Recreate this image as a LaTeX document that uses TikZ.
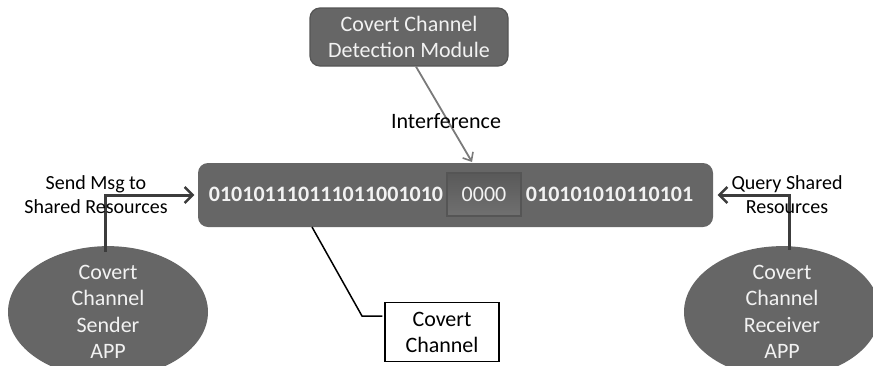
\documentclass[tikz,border=0pt]{standalone}
\usepackage{fontspec}
\setmainfont{Carlito}
\usetikzlibrary{positioning,arrows.meta,shapes.geometric}

\definecolor{boxgray}{HTML}{666666}
\definecolor{edgegray}{HTML}{555555}
\definecolor{lightfont}{HTML}{F2F2F2}
\definecolor{linkgray}{HTML}{3C3C3C}
\definecolor{pokegray}{HTML}{7A7A7A}

\begin{document}
\begin{tikzpicture}[x=1pt,y=-1pt,
    % --- styles ---
    grayround/.style={draw=edgegray, line width=1.2pt, fill=boxgray, rounded corners=10pt,
        text=lightfont, align=center, inner sep=0pt},
    appoval/.style={ellipse, draw=none, fill=boxgray, text=lightfont, align=center,
        minimum width=200pt, minimum height=114pt, inner sep=0pt,
        font=\fontsize{22}{26.3}\selectfont},
    bits/.style={text=lightfont, inner sep=0pt, font=\fontsize{22}{26}\selectfont\bfseries},
    link/.style={draw=linkgray, line width=3pt, -{Straight Barb[length=8pt,width=16pt,line width=2.5pt]}},
    note/.style={align=center, inner sep=0pt, font=\fontsize{20}{24}\selectfont}
]
    \useasboundingbox (0,0) rectangle (873,365);

    % --- detection module ---
    \node[grayround, minimum width=198pt, minimum height=58pt,
          font=\fontsize{22}{26}\selectfont] (detect) at (409,37) {Covert Channel\\Detection Module};

    % --- shared resource bit stream ---
    \node[grayround, draw=none, minimum width=515pt, minimum height=64pt] (chan) at (455.5,195) {};
    \node[draw=edgegray, line width=1.5pt, top color=gray!70!black, bottom color=gray!88!black,
          minimum width=74pt, minimum height=43pt, inner sep=0pt, text=lightfont,
          font=\fontsize{22}{26}\selectfont] (zeros) at (484,194.5) {0000};
    \node[bits, left=3pt of zeros] (bitsleft) {010101110111011001010};
    \node[bits, right=4pt of zeros] (bitsright) {010101010110101};

    % --- sender and receiver ---
    \node[appoval] (sender) at (108,312) {Covert\\Channel\\Sender\\APP};
    \node[appoval, minimum width=196pt] (receiver) at (782,312) {Covert\\Channel\\Receiver\\APP};

    % --- label box ---
    \node[draw, line width=1.2pt, fill=white, minimum width=114pt, minimum height=59pt,
          align=center, inner sep=0pt, font=\fontsize{22}{26}\selectfont] (covname) at (442,332) {Covert\\Channel};

    % --- connectors ---
    \coordinate (hitpt) at (472,162);
    \draw[draw=pokegray, line width=1.8pt, -{Straight Barb[length=7pt,width=12pt,line width=1.6pt]}]
        ([xshift=7pt]detect.south) -- (hitpt);
    \node[note, font=\fontsize{22}{26}\selectfont] (interf) at (446,121) {Interference};

    \draw[link] ([xshift=-3pt, yshift=-6pt]sender.north) |- ([xshift=-3pt]chan.west);
    \draw[link] ([xshift=7pt, yshift=-4pt]receiver.north) |- ([xshift=4pt]chan.east);

    \coordinate (leadtop) at (312,227);
    \coordinate (leadbend) at (362,316);
    \draw[line width=1.5pt] (leadtop) -- (leadbend) -- ([xshift=-2pt]leadbend -| covname.west);

    % --- connector labels ---
    \node[note] (sendtxt) at (96,195) {Send Msg to\\Shared Resources};
    \node[note] (querytxt) at (787,195) {Query Shared\\Resources};

\end{tikzpicture}
\end{document}
